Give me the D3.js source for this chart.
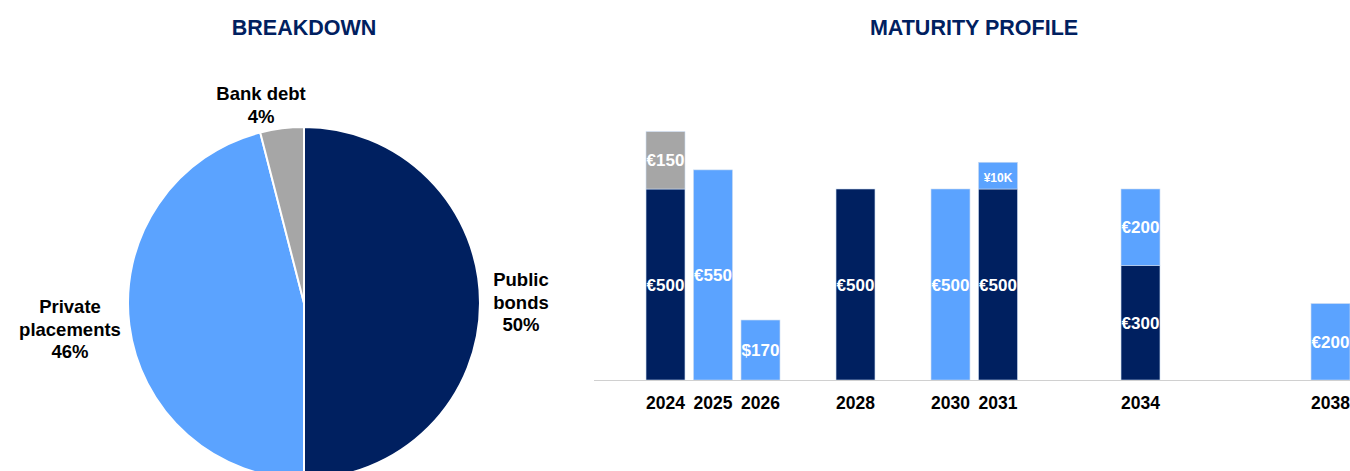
<!DOCTYPE html>
<html>
<head>
<meta charset="utf-8">
<script src="https://cdn.jsdelivr.net/npm/d3@7"></script>
<style>
  body { margin: 0; background: #fff; }
  text { font-family: "Liberation Sans", Arial, sans-serif; font-weight: bold; }
</style>
</head>
<body>
<svg id="chart" width="1350" height="471"></svg>
<script>
// breakdown (pie)
const sliceNames = ["Public bonds", "Private placements", "Bank debt"];
const sliceShares = [50, 46, 4];

// maturity profile (stacked bars), values in EUR m equivalent
const years = ["2024", "2025", "2026", "2028", "2030", "2031", "2034", "2038"];
const publicBonds = [500, 0, 0, 500, 0, 500, 300, 0];
const privatePlacements = [0, 550, 157, 0, 500, 70, 200, 200];
const bankDebt = [150, 0, 0, 0, 0, 0, 0, 0];
const publicLabels = ["€500", "", "", "€500", "", "€500", "€300", ""];
const privateLabels = ["", "€550", "$170", "", "€500", "¥10K", "€200", "€200"];
const bankLabels = ["€150", "", "", "", "", "", "", ""];

const navy = "#002060";
const lightBlue = "#5ba3ff";
const grey = "#a6a6a6";

const svg = d3.select("#chart");

// titles
svg.append("text").attr("x", 304).attr("y", 35).attr("text-anchor", "middle")
  .attr("font-size", 21.5).attr("fill", navy).text("BREAKDOWN");
svg.append("text").attr("x", 974).attr("y", 35).attr("text-anchor", "middle")
  .attr("font-size", 21.5).attr("fill", navy).text("MATURITY PROFILE");

// ---- pie ----
const cx = 304, cy = 303, radius = 176;
const pieData = sliceNames.map((n, i) => ({ name: n, share: sliceShares[i] }));
const pie = d3.pie().sort(null).value((d) => d.share);
const arc = d3.arc().innerRadius(0).outerRadius(radius);
const sliceColor = d3.scaleOrdinal().domain(sliceNames).range([navy, lightBlue, grey]);

const pieG = svg.append("g").attr("transform", `translate(${cx},${cy})`);
pieG.selectAll("path")
  .data(pie(pieData))
  .join("path")
  .attr("d", arc)
  .attr("fill", (d) => sliceColor(d.data.name))
  .attr("stroke", "#fff")
  .attr("stroke-width", 2);

// pie labels (manually placed like the original deck)
const pieLabelPos = {
  "Public bonds": { x: 521, y: 286, lines: ["Public", "bonds"] },
  "Private placements": { x: 70, y: 313, lines: ["Private", "placements"] },
  "Bank debt": { x: 261, y: 100, lines: ["Bank debt"] },
};
pieData.forEach((d) => {
  const p = pieLabelPos[d.name];
  const t = svg.append("text").attr("text-anchor", "middle")
    .attr("font-size", 18.5).attr("fill", "#000");
  p.lines.concat([d.share + "%"]).forEach((line, i) => {
    t.append("tspan").attr("x", p.x).attr("y", p.y + i * 22.5).text(line);
  });
});

// ---- bars ----
const allYears = d3.range(2024, 2039).map(String);
const x = d3.scaleBand().domain(allYears).range([641.75, 1354.25]).paddingInner(0.18).paddingOuter(0.09);
const baseY = 380;
const y = d3.scaleLinear().domain([0, 500]).range([baseY, 189]);

const rows = years.map((yr, i) => ({
  year: yr,
  publicBonds: publicBonds[i],
  privatePlacements: privatePlacements[i],
  bankDebt: bankDebt[i],
}));
const keys = ["publicBonds", "privatePlacements", "bankDebt"];
const labelsByKey = { publicBonds: publicLabels, privatePlacements: privateLabels, bankDebt: bankLabels };
const colorByKey = { publicBonds: navy, privatePlacements: lightBlue, bankDebt: grey };
const series = d3.stack().keys(keys)(rows);

const barG = svg.append("g");
series.forEach((s) => {
  const segs = s.map((d, i) => ({ d, i })).filter((o) => o.d[1] > o.d[0]);
  barG.append("g").selectAll("rect")
    .data(segs)
    .join("rect")
    .attr("x", (o) => x(o.d.data.year))
    .attr("width", x.bandwidth())
    .attr("y", (o) => y(o.d[1]))
    .attr("height", (o) => y(o.d[0]) - y(o.d[1]))
    .attr("fill", colorByKey[s.key])
    .attr("stroke", "#c9d9f0")
    .attr("stroke-width", 0.6);
  barG.append("g").selectAll("text")
    .data(segs)
    .join("text")
    .attr("x", (o) => x(o.d.data.year) + x.bandwidth() / 2)
    .attr("y", (o) => (y(o.d[0]) + y(o.d[1])) / 2 + 6)
    .attr("text-anchor", "middle")
    .attr("font-size", (o) => (s.key === "privatePlacements" && o.d.data.year === "2031" ? 12 : 17))
    .attr("fill", "#fff")
    .text((o) => labelsByKey[s.key][o.i]);
});

// baseline
svg.append("line").attr("x1", 594).attr("x2", 1350).attr("y1", baseY + 0.5).attr("y2", baseY + 0.5)
  .attr("stroke", "#d0d0d0").attr("stroke-width", 1.2);

// year labels
svg.append("g").selectAll("text")
  .data(years)
  .join("text")
  .attr("x", (d) => x(d) + x.bandwidth() / 2)
  .attr("y", 409)
  .attr("text-anchor", "middle")
  .attr("font-size", 17.5)
  .attr("fill", "#000")
  .text((d) => d);
</script>
</body>
</html>
